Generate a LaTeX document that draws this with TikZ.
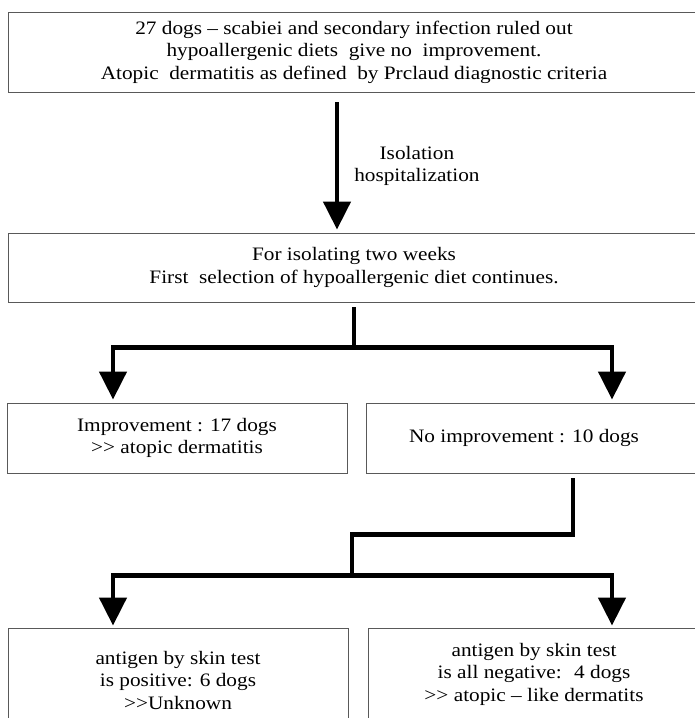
\documentclass[tikz,border=0pt]{standalone}
\usepackage{fontspec}
\setmainfont{Liberation Serif}[FakeStretch=1.12]
\usetikzlibrary{positioning,arrows.meta}

\begin{document}
\begin{tikzpicture}[
  x=1pt, y=1pt,
  font=\fontsize{19}{22.5}\selectfont,
  box/.style={draw=black!65, line width=0.9pt, inner sep=0pt, align=center},
  link/.style={line width=4.5pt, line join=miter},
  arr/.style={link, -{Triangle[width=27pt,length=28pt]}}
]
\useasboundingbox (0,0) rectangle (695,-718);
\clip (0,0) rectangle (695,-718);

\node[box, minimum width=692pt, minimum height=80pt] (top) at (354,-52)
  {27 dogs -- scabiei and secondary infection ruled out\\
   hypoallergenic diets~ give no~ improvement.\\
   Atopic~ dermatitis as defined~ by Prclaud diagnostic criteria};
\node[box, minimum width=692pt, minimum height=69pt] (iso) at (354,-267.5)
  {For isolating two weeks\\ First~ selection of hypoallergenic diet continues.};
\node[box, minimum width=340pt, minimum height=70pt] (imp) at (177,-438)
  {Improvement : 17 dogs\\ >{}> atopic dermatitis};
\node[box, minimum width=334pt, minimum height=70pt] (noimp) at (533,-438)
  {No improvement : 10 dogs\hspace*{18pt}};
\node[box, minimum width=340pt, minimum height=104pt] (pos) at (178,-680)
  {antigen by skin test\\ is positive: 6 dogs\\ >{}>Unknown};
\node[box, minimum width=332pt, minimum height=92pt] (neg) at (534,-674)
  {antigen by skin test\\ is all negative:~ 4 dogs\\ >{}> atopic -- like dermatits};

% isolation step
\draw[arr] ([xshift=-17pt,yshift=-10pt]top.south) -- node[right=15pt, inner sep=0pt, align=center]
  {Isolation\\ hospitalization} ([xshift=-17pt,yshift=3pt]iso.north);

% first split
\draw[link] ([yshift=-5pt]iso.south) -- ([yshift=-45pt]iso.south) coordinate (fork1);
\draw[arr] (fork1) -| ([xshift=-64pt,yshift=3pt]imp.north);
\draw[arr] (fork1) -| ([xshift=79pt,yshift=3pt]noimp.north);

% second split
\draw[link] ([xshift=40pt,yshift=-5pt]noimp.south) -- ++(0,-56) -- ++(-221,0) -- ++(0,-41) coordinate (fork2);
\draw[arr] (fork2) -| ([xshift=-65pt,yshift=2pt]pos.north);
\draw[arr] (fork2) -| ([xshift=78pt,yshift=2pt]neg.north);
\end{tikzpicture}
\end{document}
